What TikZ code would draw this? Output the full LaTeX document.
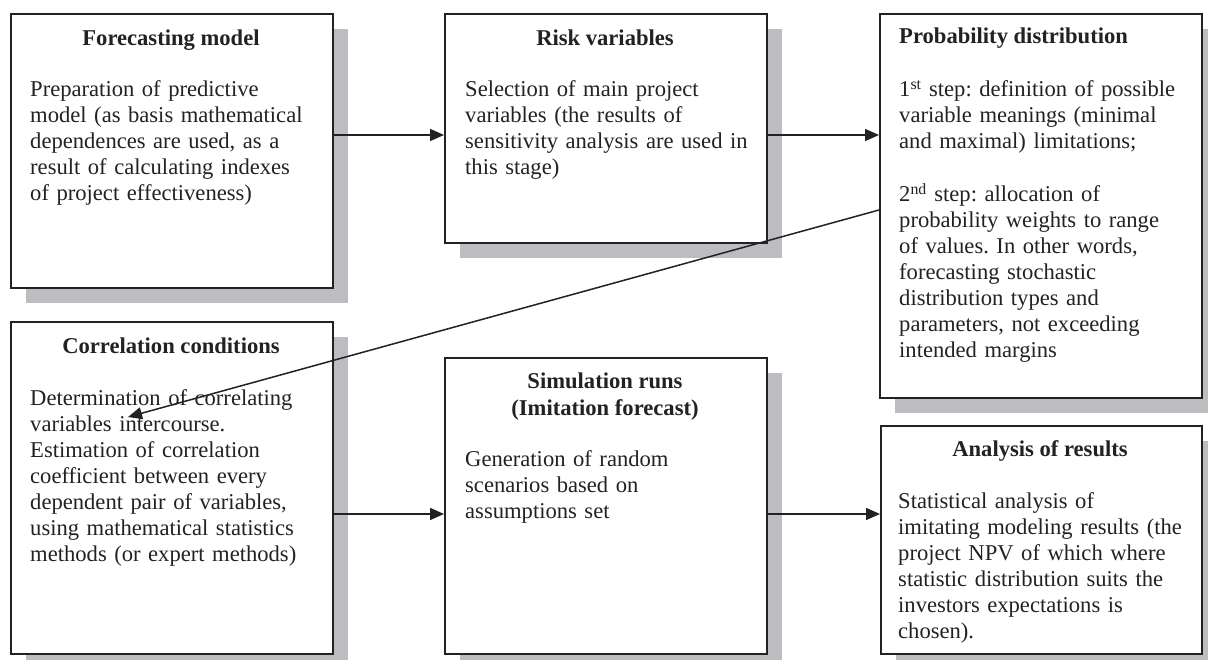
\documentclass[tikz,border=0pt]{standalone}
\usepackage{fontspec}
\setmainfont{Liberation Serif}
\usetikzlibrary{arrows.meta,shadows}
\frenchspacing
\definecolor{shadowc}{RGB}{188,188,193}
\definecolor{inkc}{RGB}{34,34,34}
\tikzset{
  boxnode/.style={draw=inkc, line width=1.8pt, fill=white, anchor=north west, inner sep=0pt,
    general shadow={fill=shadowc, shadow xshift=15pt, shadow yshift=-15pt}},
  titlenode/.style={anchor=base, inner sep=0pt, text=inkc, align=center,
    font=\fontsize{22.6}{27}\selectfont\bfseries},
  titleleft/.style={anchor=base west, inner sep=0pt, text=inkc,
    font=\fontsize{22.6}{27}\selectfont\bfseries},
  bodynode/.style={anchor=base west, inner sep=0pt, text=inkc, text width=320pt, align=left,
    font=\fontsize{22.6}{26}\selectfont},
  arr/.style={draw=inkc, line width=1.5pt, -{Triangle[length=14pt,width=12pt]}}
}
\begin{document}
\begin{tikzpicture}[x=1pt,y=-1pt]
\clip (0,0) rectangle (1208,659);
\fill[white] (0,0) rectangle (1208,659);
% boxes
\node[boxnode, minimum width=322pt, minimum height=274pt] (b1) at (10,12.7) {};
\node[boxnode, minimum width=322pt, minimum height=229pt] (b2) at (444,12.7) {};
\node[boxnode, minimum width=322pt, minimum height=384pt] (b3) at (879,12.7) {};
\node[boxnode, minimum width=322pt, minimum height=332pt] (b4) at (10,321) {};
\node[boxnode, minimum width=322pt, minimum height=296pt] (b5) at (444,357) {};
\node[boxnode, minimum width=321pt, minimum height=228pt] (b6) at (880,425) {};
% texts
\node[titlenode] (t1) at (171,45) {Forecasting model};
\node[bodynode] (x1) at (30,96.7) {Preparation of predictive\\model (as basis mathematical\\dependences are used, as a\\result of calculating indexes\\of project effectiveness)};
\node[titlenode] (t2) at (605,45) {Risk variables};
\node[bodynode] (x2) at (465,96.7) {Selection of main project\\variables (the results of\\sensitivity analysis are used in\\this stage)};
\node[titleleft] (t3) at (899,43) {Probability distribution};
\node[bodynode] (x3) at (899,96.7) {1\textsuperscript{st} step: definition of possible\\variable meanings (minimal\\and maximal) limitations;\\[27pt]2\textsuperscript{nd} step: allocation of\\probability weights to range\\of values. In other words,\\forecasting stochastic\\distribution types and\\parameters, not exceeding\\intended margins};
\node[titlenode] (t4) at (171,353) {Correlation conditions};
\node[bodynode] (x4) at (30,405) {Determination of correlating\\variables intercourse.\\Estimation of correlation\\coefficient between every\\dependent pair of variables,\\using mathematical statistics\\methods (or expert methods)};
\node[titlenode] (t5) at (605,415) {Simulation runs\\(Imitation forecast)};
\node[bodynode] (x5) at (465,466.7) {Generation of random\\scenarios based on\\assumptions set};
\node[titlenode] (t6) at (1040,456.7) {Analysis of results};
\node[bodynode] (x6) at (898,508) {Statistical analysis of\\imitating modeling results (the\\project NPV of which where\\statistic distribution suits the\\investors expectations is\\chosen).};
% connectors
\coordinate (ya) at (0,135);
\coordinate (yb) at (0,514);
\coordinate (yd) at (0,210);
\coordinate (e4) at (128,417);
\draw[arr] (b1.east |- ya) -- (b2.west |- ya);
\draw[arr] (b2.east |- ya) -- (b3.west |- ya);
\draw[arr] (b3.west |- yd) -- (e4);
\draw[arr] (b4.east |- yb) -- (b5.west |- yb);
\draw[arr] (b5.east |- yb) -- (b6.west |- yb);
\end{tikzpicture}
\end{document}
